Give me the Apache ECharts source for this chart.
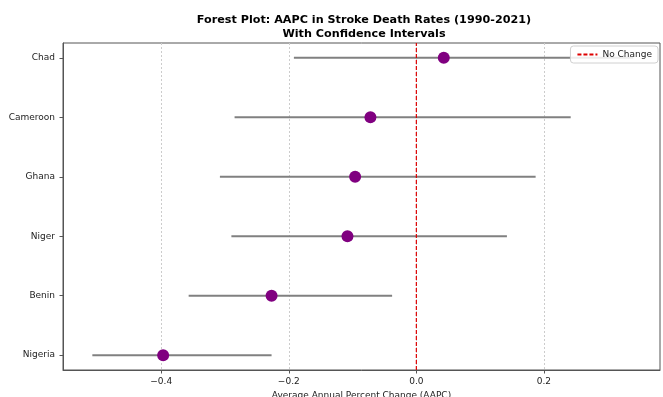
<!DOCTYPE html>
<html>
<head>
<meta charset="utf-8">
<script src="https://cdn.jsdelivr.net/npm/echarts@6/dist/echarts.min.js"></script>
<style>html,body{margin:0;padding:0;background:#fff}#c{width:663px;height:397px}</style>
</head>
<body>
<div id="c"></div>
<script>
const countries = ['Nigeria', 'Benin', 'Niger', 'Ghana', 'Cameroon', 'Chad'];
const aapc = [-0.397, -0.227, -0.108, -0.096, -0.072, 0.043];
const ciLower = [-0.508, -0.357, -0.290, -0.308, -0.285, -0.192];
const ciUpper = [-0.227, -0.038, 0.142, 0.187, 0.242, 0.340];
const xTicks = [-0.4, -0.2, 0.0, 0.2];
const yTicks = [0, 1, 2, 3, 4, 5];

const FONT = 'DejaVu Sans';
const chart = echarts.init(document.getElementById('c'), null, {renderer: 'canvas'});
chart.setOption({
  animation: false,
  backgroundColor: '#fff',
  title: {
    text: 'Forest Plot: AAPC in Stroke Death Rates (1990-2021)\nWith Confidence Intervals',
    left: 359, top: 8, textAlign: 'center',
    textStyle: {fontFamily: FONT, fontSize: 11.2, fontWeight: 'bold', color: '#000', lineHeight: 14}
  },
  legend: {
    data: ['No Change'],
    right: 5, top: 46,
    itemWidth: 20, itemHeight: 10, itemGap: 6,
    padding: [4, 6, 4, 6],
    borderColor: '#d0d0d0', borderWidth: 1, borderRadius: 3,
    backgroundColor: 'rgba(255,255,255,0.85)',
    itemStyle: {opacity: 0},
    textStyle: {fontFamily: FONT, fontSize: 9, color: '#222'}
  },
  grid: {left: 63, right: 3, top: 43, bottom: 27, show: true, borderColor: '#555', borderWidth: 1,
    backgroundColor: 'transparent', outerBoundsMode: 'none', containLabel: false},
  xAxis: {
    type: 'value', min: -0.554, max: 0.382,
    name: 'Average Annual Percent Change (AAPC)', nameLocation: 'middle', nameGap: 18,
    nameTextStyle: {fontFamily: FONT, fontSize: 9, color: '#222'},
    axisLine: {show: true, onZero: false, lineStyle: {color: '#555'}},
    axisTick: {show: true, length: 3.5, customValues: xTicks, lineStyle: {color: '#555'}},
    axisLabel: {customValues: xTicks, fontFamily: FONT, fontSize: 9, color: '#222', margin: 7,
      formatter: v => v.toFixed(1).replace('-', '\u2212')},
    splitLine: {show: true, lineStyle: {color: '#cccccc', type: [2, 2], width: 1}}
  },
  yAxis: {
    type: 'value', min: -0.25, max: 5.25,
    axisLine: {show: true, onZero: false, lineStyle: {color: '#555'}},
    axisTick: {show: true, length: 3.5, customValues: yTicks, lineStyle: {color: '#555'}},
    axisLabel: {customValues: yTicks, fontFamily: FONT, fontSize: 9, color: '#222', margin: 8,
      formatter: v => countries[Math.round(v)]},
    splitLine: {show: false}
  },
  series: [
    {
      name: 'CI', type: 'custom', z: 2,
      encode: {x: [1, 2], y: 0},
      data: countries.map((c, i) => [i, ciLower[i], ciUpper[i]]),
      renderItem: function (params, api) {
        const a = api.coord([api.value(1), api.value(0)]);
        const b = api.coord([api.value(2), api.value(0)]);
        return {type: 'line', shape: {x1: a[0], y1: a[1], x2: b[0], y2: b[1]},
          style: {stroke: '#808080', lineWidth: 2}};
      }
    },
    {
      name: 'No Change', type: 'line', z: 3, symbol: 'none',
      data: [[0, -0.25], [0, 5.25]],
      lineStyle: {color: '#dd0000', width: 1.2, type: [4, 2]},
      itemStyle: {color: '#dd0000'}
    },
    {
      name: 'AAPC', type: 'scatter', z: 4, symbolSize: 12,
      data: aapc.map((v, i) => [v, i]),
      itemStyle: {color: '#800080', opacity: 1}
    }
  ]
});
</script>
</body>
</html>
